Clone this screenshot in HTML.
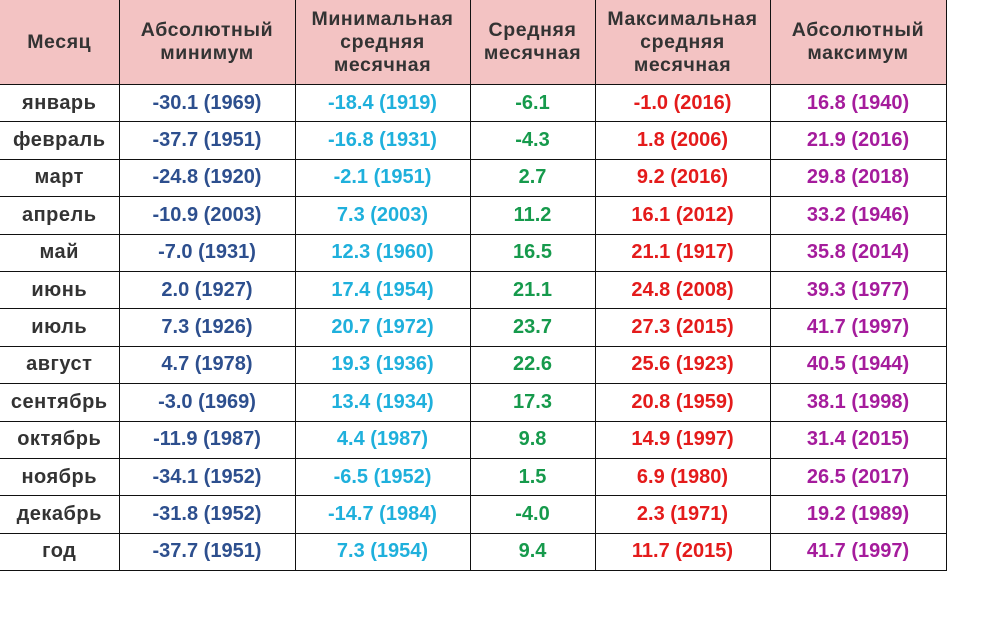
<!DOCTYPE html>
<html><head><meta charset="utf-8"><style>
body{margin:0;width:998px;height:621px;background:#fff;overflow:hidden}
table{position:absolute;left:0;top:0;border-collapse:collapse;font-family:"Liberation Sans",Arial,sans-serif;font-weight:bold;font-size:20px;table-layout:fixed}
td,th{border:1.5px solid #111;text-align:center;padding:0;height:36.4px}
th{background:#f3c3c3;color:#333;height:84px;font-size:19.5px;line-height:23px;letter-spacing:0.6px;border-top:none}
tr td:first-child{letter-spacing:0.5px}
tr td:first-child,tr th:first-child{border-left:none;color:#333}
.b{color:#2d4f8e}.c{color:#1fb0dc}.g{color:#169a4c}.r{color:#e41b1b}.m{color:#a51c9c}
</style></head><body>
<table>
<colgroup><col style="width:119px"><col style="width:176px"><col style="width:175px"><col style="width:125px"><col style="width:175px"><col style="width:176px"></colgroup>
<tr><th>Месяц</th><th>Абсолютный<br>минимум</th><th>Минимальная<br>средняя<br>месячная</th><th>Средняя<br>месячная</th><th>Максимальная<br>средняя<br>месячная</th><th>Абсолютный<br>максимум</th></tr>
<tr><td>январь</td><td class="b">-30.1 (1969)</td><td class="c">-18.4 (1919)</td><td class="g">-6.1</td><td class="r">-1.0 (2016)</td><td class="m">16.8 (1940)</td></tr>
<tr><td>февраль</td><td class="b">-37.7 (1951)</td><td class="c">-16.8 (1931)</td><td class="g">-4.3</td><td class="r">1.8 (2006)</td><td class="m">21.9 (2016)</td></tr>
<tr><td>март</td><td class="b">-24.8 (1920)</td><td class="c">-2.1 (1951)</td><td class="g">2.7</td><td class="r">9.2 (2016)</td><td class="m">29.8 (2018)</td></tr>
<tr><td>апрель</td><td class="b">-10.9 (2003)</td><td class="c">7.3 (2003)</td><td class="g">11.2</td><td class="r">16.1 (2012)</td><td class="m">33.2 (1946)</td></tr>
<tr><td>май</td><td class="b">-7.0 (1931)</td><td class="c">12.3 (1960)</td><td class="g">16.5</td><td class="r">21.1 (1917)</td><td class="m">35.8 (2014)</td></tr>
<tr><td>июнь</td><td class="b">2.0 (1927)</td><td class="c">17.4 (1954)</td><td class="g">21.1</td><td class="r">24.8 (2008)</td><td class="m">39.3 (1977)</td></tr>
<tr><td>июль</td><td class="b">7.3 (1926)</td><td class="c">20.7 (1972)</td><td class="g">23.7</td><td class="r">27.3 (2015)</td><td class="m">41.7 (1997)</td></tr>
<tr><td>август</td><td class="b">4.7 (1978)</td><td class="c">19.3 (1936)</td><td class="g">22.6</td><td class="r">25.6 (1923)</td><td class="m">40.5 (1944)</td></tr>
<tr><td>сентябрь</td><td class="b">-3.0 (1969)</td><td class="c">13.4 (1934)</td><td class="g">17.3</td><td class="r">20.8 (1959)</td><td class="m">38.1 (1998)</td></tr>
<tr><td>октябрь</td><td class="b">-11.9 (1987)</td><td class="c">4.4 (1987)</td><td class="g">9.8</td><td class="r">14.9 (1997)</td><td class="m">31.4 (2015)</td></tr>
<tr><td>ноябрь</td><td class="b">-34.1 (1952)</td><td class="c">-6.5 (1952)</td><td class="g">1.5</td><td class="r">6.9 (1980)</td><td class="m">26.5 (2017)</td></tr>
<tr><td>декабрь</td><td class="b">-31.8 (1952)</td><td class="c">-14.7 (1984)</td><td class="g">-4.0</td><td class="r">2.3 (1971)</td><td class="m">19.2 (1989)</td></tr>
<tr><td>год</td><td class="b">-37.7 (1951)</td><td class="c">7.3 (1954)</td><td class="g">9.4</td><td class="r">11.7 (2015)</td><td class="m">41.7 (1997)</td></tr>
</table>
</body></html>
